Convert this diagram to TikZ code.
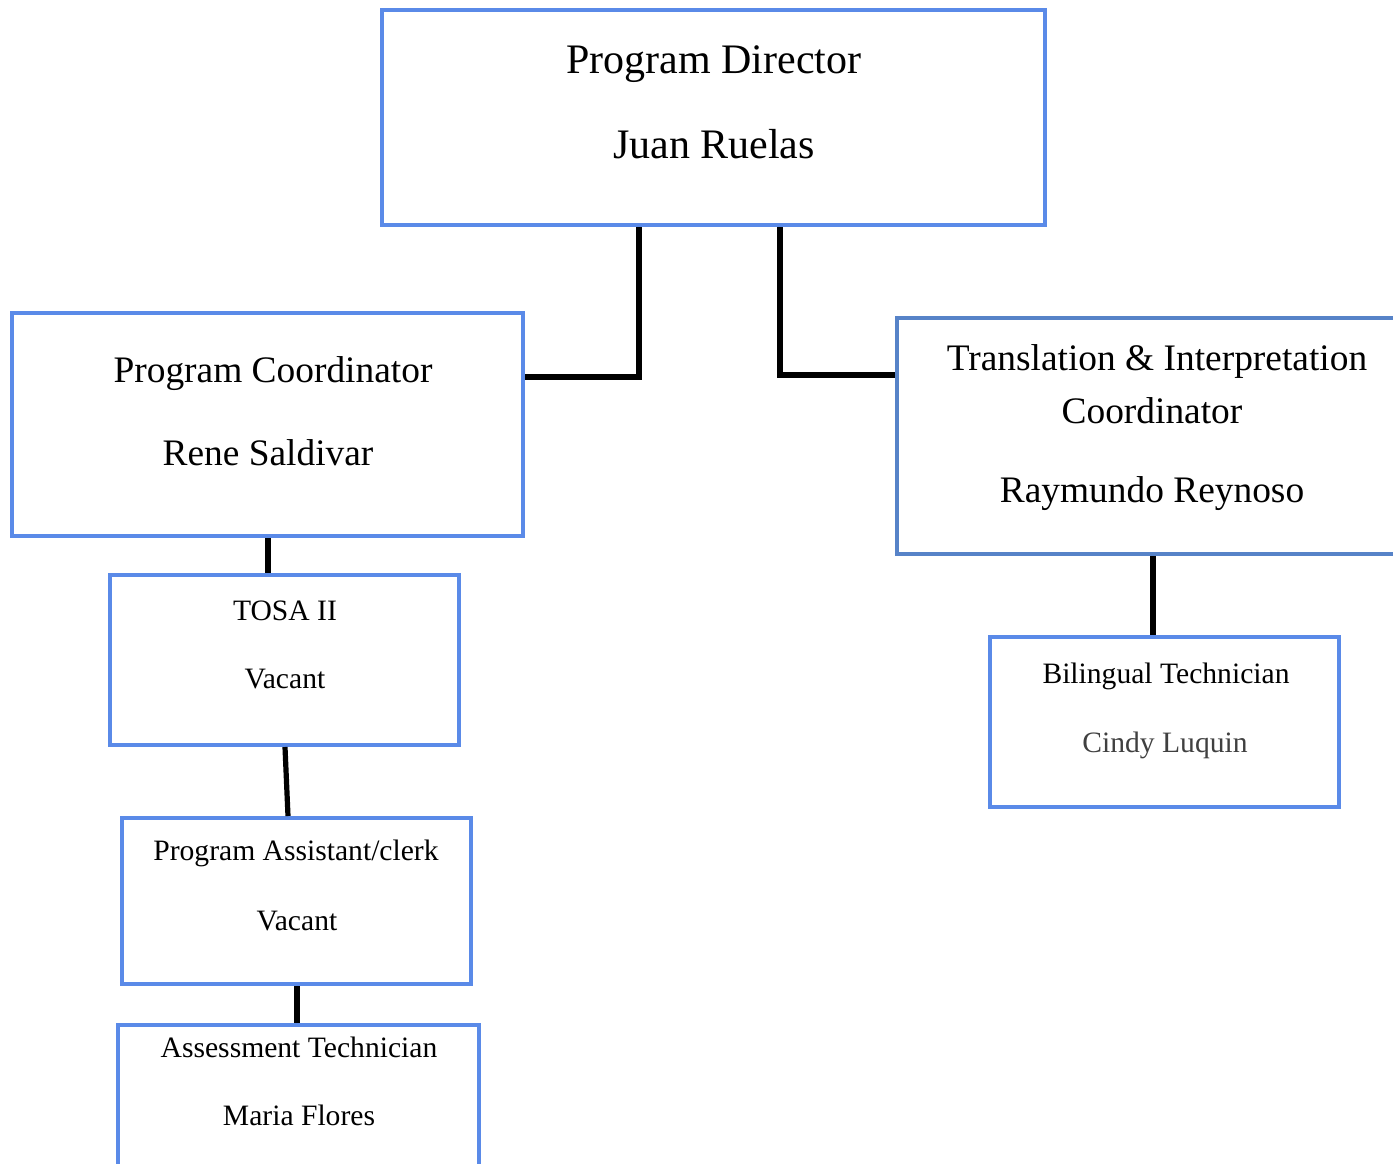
\documentclass[tikz,border=0pt]{standalone}
\usepackage{fontspec}
\setmainfont{Liberation Serif}
\usepackage{tikz}
\usetikzlibrary{positioning,calc}

\definecolor{boxblue}{RGB}{90,138,232}
\definecolor{boxsteel}{RGB}{87,131,200}

\tikzset{
	orgbox/.style={draw=boxblue, line width=2pt, inner sep=0pt},
	bigtxt/.style={font=\fontsize{18.7}{22}\selectfont, inner sep=0pt, anchor=base},
	smalltxt/.style={font=\fontsize{14.8}{17}\selectfont, inner sep=0pt, anchor=base},
	link/.style={line width=2.6pt, black}
}

\begin{document}
\begin{tikzpicture}[x=0.5pt, y=-0.5pt]
	\useasboundingbox (0,0) rectangle (1393,1163);
	% boxes
	\node[orgbox, minimum width=331.5pt, minimum height=107.5pt] (director) at (713.5,117.5) {};
	\node[orgbox, minimum width=255.5pt, minimum height=111.5pt] (coord) at (267.5,424.5) {};
	\node[orgbox, draw=boxsteel, minimum width=254pt, minimum height=118pt] (transl) at (1151,436) {};
	\node[orgbox, minimum width=174.5pt, minimum height=85pt] (tosa) at (284.5,660) {};
	\node[orgbox, minimum width=174.5pt, minimum height=83pt] (assist) at (296.5,901) {};
	\node[orgbox, minimum width=180.5pt, minimum height=80pt] (assess) at (298.5,1105) {};
	\node[orgbox, minimum width=174.5pt, minimum height=85pt] (biling) at (1164.5,722) {};

	% texts
	\node[bigtxt, font=\fontsize{21}{25}\selectfont] (dirtitle) at (714,73) {Program Director};
	\node[bigtxt, font=\fontsize{21}{25}\selectfont] (dirname) at (714,158) {Juan Ruelas};
	\node[bigtxt] (coordtitle) at (273,382) {Program Coordinator};
	\node[bigtxt] (coordname) at (268,465) {Rene Saldivar};
	\node[bigtxt] (transltitle) at (1157,370) {Translation \& Interpretation};
	\node[bigtxt] (translsub) at (1152,423) {Coordinator};
	\node[bigtxt] (translname) at (1152,502) {Raymundo Reynoso};
	\node[smalltxt] (tosatitle) at (285,620) {TOSA II};
	\node[smalltxt] (tosaname) at (285,688) {Vacant};
	\node[smalltxt] (assisttitle) at (296,860) {Program Assistant/clerk};
	\node[smalltxt] (assistname) at (297,930) {Vacant};
	\node[smalltxt] (assesstitle) at (299,1057) {Assessment Technician};
	\node[smalltxt] (assessname) at (299,1125) {Maria Flores};
	\node[smalltxt] (bilingtitle) at (1166,683) {Bilingual Technician};
	\node[smalltxt, text=black!75] (bilingname) at (1165,752) {Cindy Luquin};

	% connectors
	\draw[link] (director.south -| 639,0) |- (coord.east |- 0,377);
	\draw[link] (director.south -| 780,0) |- (transl.west |- 0,375);
	\draw[link] (coord.south -| 268,0) -- (tosa.north -| 268,0);
	\draw[link] (tosa.south -| 285,0) -- (assist.north -| 288,0);
	\draw[link] (assist.south -| 297,0) -- (assess.north -| 297,0);
	\draw[link] (transl.south -| 1153,0) -- (biling.north -| 1153,0);
\end{tikzpicture}
\end{document}
